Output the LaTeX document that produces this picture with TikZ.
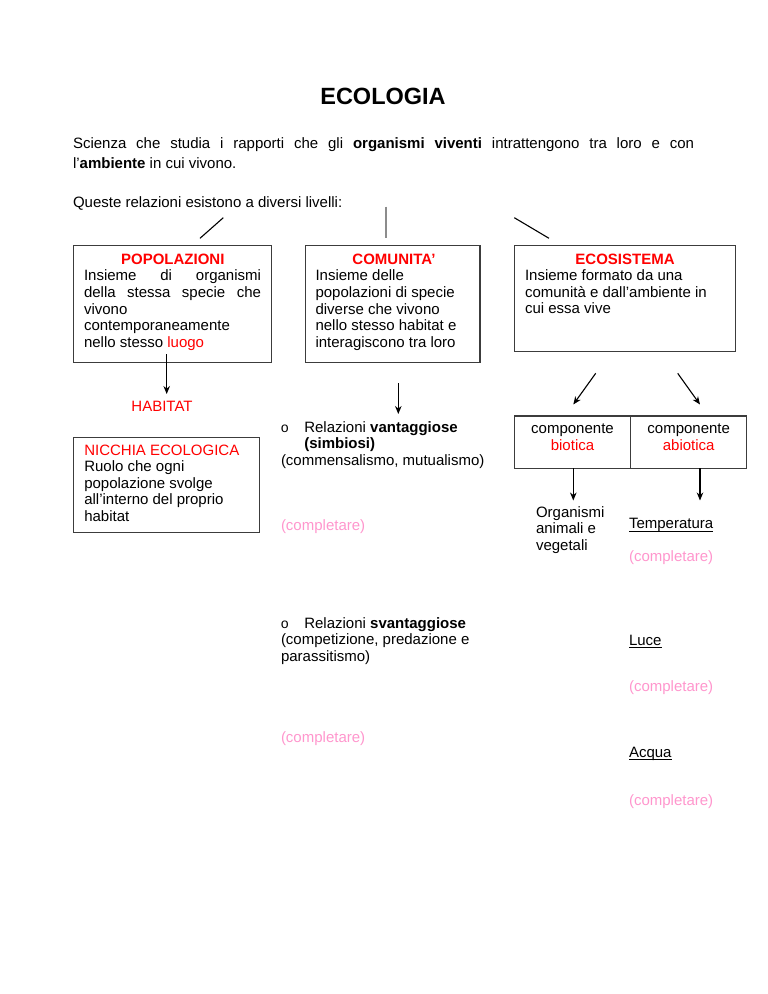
\documentclass[tikz,border=0pt]{standalone}
\usepackage{fontspec}
\setmainfont{Liberation Sans}
\newfontfamily\bulletf{Liberation Mono}
\usetikzlibrary{arrows.meta}
\definecolor{tred}{RGB}{255,0,0}
\definecolor{tpink}{RGB}{255,150,205}
\definecolor{tline}{RGB}{60,60,60}
\newcommand{\bodyf}{\fontsize{15}{16.6}\selectfont}
\begin{document}
\begin{tikzpicture}[x=1pt,y=-1pt,
  every node/.style={inner sep=0pt,outer sep=0pt},
  txt/.style={font=\bodyf,anchor=base west},
  ttl/.style={font=\bodyf\bfseries,text=tred,anchor=base},
  pinktxt/.style={txt,text=tpink},
  bul/.style={anchor=base west,font=\fontsize{14}{14}\selectfont\bulletf},
  boxx/.style={draw=tline,line width=1.3pt,anchor=north west},
  arr/.style={-{Stealth[length=8pt,width=6.5pt]},line width=1.1pt},
  plain/.style={line width=1.1pt},
  uline/.style={line width=0.9pt}
]
\useasboundingbox (0,0) rectangle (768,994);

% title and intro
\node[font=\fontsize{23.5}{25}\selectfont\bfseries,anchor=base] (title) at (383,104) {ECOLOGIA};
\node[txt] (intro1) at (73,148) {\makebox[621pt][s]{Scienza che studia i rapporti che gli \textbf{organismi viventi} intrattengono tra loro e con}};
\node[txt] (intro2) at (73,168) {l’\textbf{ambiente} in cui vivono.};
\node[txt] (queste) at (73,207.5) {Queste relazioni esistono a diversi livelli:};

% connector lines from the sentence
\coordinate (l1a) at (223.3,217.7); \coordinate (l1b) at (200,238.3);
\coordinate (l2a) at (386,206.7);   \coordinate (l2b) at (386,238.3);
\coordinate (l3a) at (514.3,217.7); \coordinate (l3b) at (549,238.3);
\draw[plain] (l1a) -- (l1b);
\draw[plain,black!45] (l2a) -- (l2b);
\draw[plain] (l3a) -- (l3b);

% three boxes
\node[boxx,minimum width=198.4pt,minimum height=116.6pt] (pop) at (73.3,245.7) {};
\node[boxx,minimum width=174.5pt,minimum height=116.6pt] (com) at (305.5,245.7) {};
\node[boxx,minimum width=221.4pt,minimum height=106pt] (eco) at (514.3,245.7) {};

\node[ttl] (popt) at (172.8,264.3) {POPOLAZIONI};
\node[txt] (popx) at (84,280.9) {\parbox[t]{177pt}{\bodyf
\makebox[177pt][s]{Insieme di organismi}\\
\makebox[177pt][s]{della stessa specie che}\\
vivono\\
contemporaneamente\\
nello stesso \textcolor{tred}{luogo}}};

\node[ttl] (comt) at (394,264.3) {COMUNITA’};
\node[txt] (comx) at (315.5,280.9) {\parbox[t]{160pt}{\bodyf
Insieme delle\\
popolazioni di specie\\
diverse che vivono\\
nello stesso habitat e\\
interagiscono tra loro}};

\node[ttl] (ecot) at (625,264) {ECOSISTEMA};
\node[txt] (ecox) at (525,280.6) {\parbox[t]{205pt}{\bodyf
Insieme formato da una\\
comunità e dall’ambiente in\\
cui essa vive}};

% left column
\coordinate (a1s) at (166.7,354); \coordinate (a1e) at (166.7,394);
\draw[arr] (a1s) -- (a1e);
\node[txt,text=tred,anchor=base] (habitat) at (162,411.7) {HABITAT};
\node[boxx,minimum width=186.2pt,minimum height=95pt] (nic) at (73.3,437.3) {};
\node[txt] (nicx) at (84.3,455) {\parbox[t]{170pt}{\bodyf
\textcolor{tred}{NICCHIA ECOLOGICA}\\
Ruolo che ogni\\
popolazione svolge\\
all’interno del proprio\\
habitat}};

% middle column
\coordinate (a2s) at (398.3,383.3); \coordinate (a2e) at (398.3,414);
\draw[arr] (a2s) -- (a2e);
\node[bul] (b1) at (280.5,432) {o};
\node[txt] (rv1) at (304.3,432) {Relazioni \textbf{vantaggiose}};
\node[txt] (rv2) at (304.3,448.6) {\textbf{(simbiosi)}};
\node[txt] (rv3) at (281,465.2) {(commensalismo, mutualismo)};
\node[pinktxt] (c1) at (281,530) {(completare)};
\node[bul] (b2) at (280.5,628.3) {o};
\node[txt] (rs1) at (304.3,628.3) {Relazioni \textbf{svantaggiose}};
\node[txt] (rs2) at (281,644.9) {(competizione, predazione e};
\node[txt] (rs3) at (281,661.5) {parassitismo)};
\node[pinktxt] (c2) at (281,742.5) {(completare)};

% right column
\coordinate (a3s) at (595.7,373.3); \coordinate (a3e) at (573.3,404.5);
\coordinate (a4s) at (677.7,373.3); \coordinate (a4e) at (700,404.5);
\draw[arr] (a3s) -- (a3e);
\draw[arr] (a4s) -- (a4e);
\node[boxx,minimum width=232.4pt,minimum height=52.3pt] (comp) at (514.3,416) {};
\coordinate (divt) at (630.7,416); \coordinate (divb) at (630.7,468.3);
\draw[line width=1pt,tline] (divt) -- (divb);
\node[txt,anchor=base] (bio1) at (572.5,433.3) {componente};
\node[txt,anchor=base,text=tred] (bio2) at (572.5,450) {biotica};
\node[txt,anchor=base] (abi1) at (688.7,433.3) {componente};
\node[txt,anchor=base,text=tred] (abi2) at (688.7,450) {abiotica};
\coordinate (a5s) at (573.3,468.3); \coordinate (a5e) at (573.3,500.5);
\coordinate (a6s) at (700,468.3);   \coordinate (a6e) at (700,500.5);
\draw[arr] (a5s) -- (a5e);
\draw[arr] (a6s) -- (a6e);

\node[txt] (org) at (536,517.3) {\parbox[t]{80pt}{\bodyf
Organismi\\
animali e\\
vegetali}};
\node[txt] (temp) at (629,528.8) {Temperatura};
\draw[uline] ([yshift=-2.6pt]temp.base west) -- ([yshift=-2.6pt]temp.base east);
\node[pinktxt] (c3) at (629,561.2) {(completare)};
\node[txt] (luce) at (629,645) {Luce};
\draw[uline] ([yshift=-2.6pt]luce.base west) -- ([yshift=-2.6pt]luce.base east);
\node[pinktxt] (c4) at (629,691.5) {(completare)};
\node[txt] (acqua) at (629,757) {Acqua};
\draw[uline] ([yshift=-2.6pt]acqua.base west) -- ([yshift=-2.6pt]acqua.base east);
\node[pinktxt] (c5) at (629,805.5) {(completare)};
\end{tikzpicture}
\end{document}
